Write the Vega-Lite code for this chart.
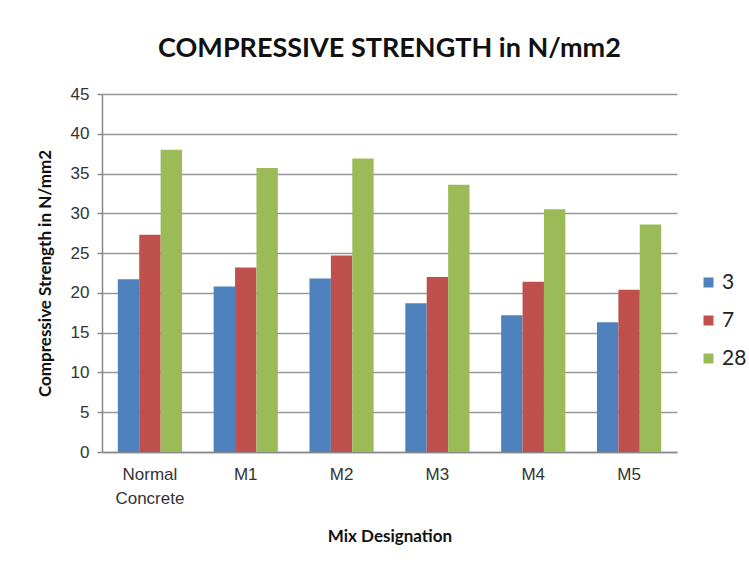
{
  "$schema": "https://vega.github.io/schema/vega-lite/v6.json",
  "autosize": {"type": "none"},
  "width": 575,
  "height": 358,
  "padding": {"left": 102, "top": 94, "right": 72, "bottom": 115},
  "background": "white",
  "title": {
    "text": "COMPRESSIVE STRENGTH in N/mm2",
    "font": "Lato",
    "fontSize": 27,
    "fontWeight": "bold",
    "color": "#111111",
    "anchor": "middle",
    "offset": 22
  },
  "data": {
    "values": [
      {"mix": "Normal Concrete", "age": "3", "strength": 21.7},
      {"mix": "Normal Concrete", "age": "7", "strength": 27.3},
      {"mix": "Normal Concrete", "age": "28", "strength": 38.0},
      {"mix": "M1", "age": "3", "strength": 20.8},
      {"mix": "M1", "age": "7", "strength": 23.2},
      {"mix": "M1", "age": "28", "strength": 35.7},
      {"mix": "M2", "age": "3", "strength": 21.8},
      {"mix": "M2", "age": "7", "strength": 24.7},
      {"mix": "M2", "age": "28", "strength": 36.9},
      {"mix": "M3", "age": "3", "strength": 18.7},
      {"mix": "M3", "age": "7", "strength": 22.0},
      {"mix": "M3", "age": "28", "strength": 33.6},
      {"mix": "M4", "age": "3", "strength": 17.2},
      {"mix": "M4", "age": "7", "strength": 21.4},
      {"mix": "M4", "age": "28", "strength": 30.5},
      {"mix": "M5", "age": "3", "strength": 16.3},
      {"mix": "M5", "age": "7", "strength": 20.4},
      {"mix": "M5", "age": "28", "strength": 28.6}
    ]
  },
  "mark": {"type": "bar"},
  "encoding": {
    "x": {
      "field": "mix",
      "type": "nominal",
      "sort": null,
      "scale": {"paddingInner": 0.33, "paddingOuter": 0.165},
      "axis": {
        "title": "Mix Designation",
        "titleFont": "Lato",
        "titleFontSize": 17,
        "titleFontWeight": "bold",
        "titleColor": "#111111",
        "titlePadding": 22,
        "labelAngle": 0,
        "labelFont": "Liberation Sans",
        "labelFontSize": 17,
        "labelColor": "#333333",
        "labelPadding": 14,
        "labelLineHeight": 24,
        "labelExpr": "datum.value == 'Normal Concrete' ? ['Normal', 'Concrete'] : datum.value",
        "ticks": false,
        "domainColor": "#888888",
        "domainWidth": 1.5
      }
    },
    "xOffset": {"field": "age", "type": "nominal", "sort": ["3", "7", "28"]},
    "y": {
      "field": "strength",
      "type": "quantitative",
      "scale": {"domain": [0, 45]},
      "axis": {
        "title": "Compressive Strength in N/mm2",
        "titleFont": "Lato",
        "titleFontSize": 17,
        "titleFontWeight": "bold",
        "titleColor": "#111111",
        "titlePadding": 16,
        "values": [0, 5, 10, 15, 20, 25, 30, 35, 40, 45],
        "labelFont": "Liberation Sans",
        "labelFontSize": 17,
        "labelColor": "#333333",
        "labelPadding": 8,
        "tickColor": "#888888",
        "tickSize": 5,
        "tickWidth": 1.5,
        "domainColor": "#888888",
        "domainWidth": 1.5,
        "gridColor": "#999999",
        "gridWidth": 1.5
      }
    },
    "color": {
      "field": "age",
      "type": "nominal",
      "sort": ["3", "7", "28"],
      "scale": {"domain": ["3", "7", "28"], "range": ["#4F81BD", "#C0504D", "#9BBB59"]},
      "legend": {
        "title": null,
        "orient": "none",
        "legendX": 596,
        "legendY": 178,
        "padding": 0,
        "symbolType": "square",
        "symbolSize": 100,
        "symbolStrokeWidth": 0,
        "labelFont": "Lato",
        "labelFontSize": 21,
        "labelColor": "#222222",
        "rowPadding": 16,
        "labelOffset": 3
      }
    }
  },
  "config": {"view": {"stroke": null}}
}
